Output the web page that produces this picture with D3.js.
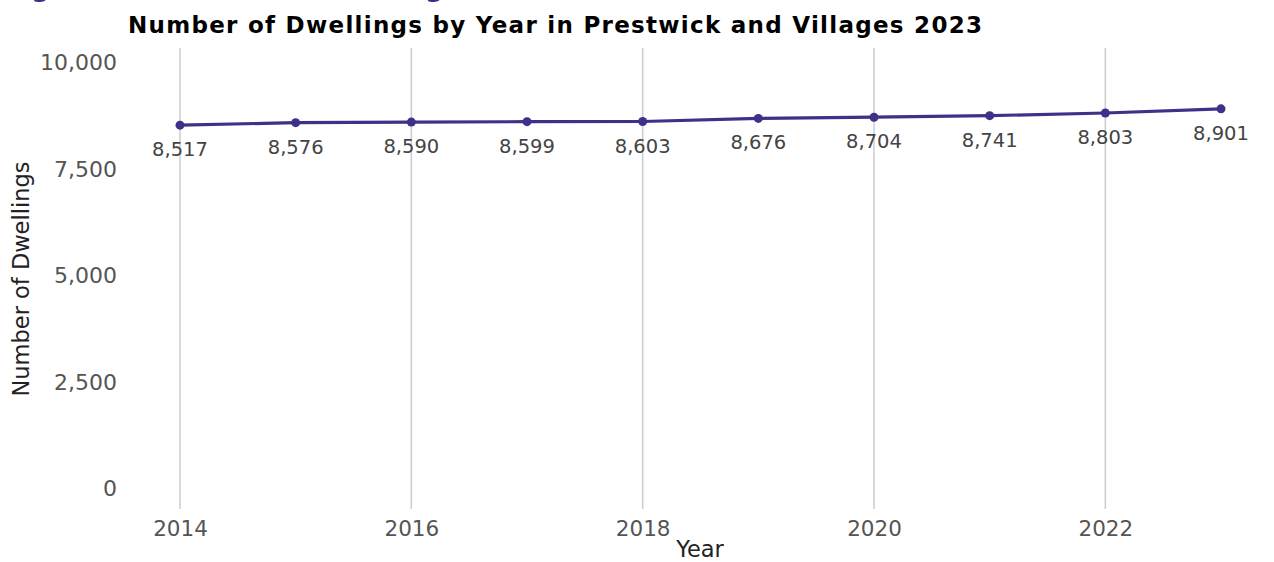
<!DOCTYPE html>
<html>
<head>
<meta charset="utf-8">
<script src="https://cdn.jsdelivr.net/npm/d3@7"></script>
<style>
  html, body { margin: 0; padding: 0; background: #fff; }
  svg { display: block; font-family: "DejaVu Sans", sans-serif; }
</style>
</head>
<body>
<svg id="chart" width="1274" height="562"></svg>
<script>
const years = [2014, 2015, 2016, 2017, 2018, 2019, 2020, 2021, 2022, 2023];
const dwellings = [8517, 8576, 8590, 8599, 8603, 8676, 8704, 8741, 8803, 8901];
const xTicks = [2014, 2016, 2018, 2020, 2022];
const yTicks = [0, 2500, 5000, 7500, 10000];
const titleText = "Number of Dwellings by Year in Prestwick and Villages 2023";
const headingText = "Figure 1: Number of Dwellings";

const svg = d3.select("#chart");
const lineColor = "#3d3189";

const x = d3.scaleLinear().domain([2014, 2023]).range([180, 1221]);
const y = d3.scaleLinear().domain([0, 10000]).range([488, 62]);

// cut-off heading at very top (only descenders visible, as in the reference)
svg.append("text")
  .attr("x", 4).attr("y", -4)
  .attr("font-size", 26.5).attr("font-weight", "bold")
  .attr("fill", "#3b2d8a")
  .text(headingText);

// vertical grid lines
svg.append("g").selectAll("line")
  .data(xTicks)
  .join("line")
  .attr("x1", d => x(d)).attr("x2", d => x(d))
  .attr("y1", 48).attr("y2", 509)
  .attr("stroke", "#cccccc").attr("stroke-width", 1.5);

// y tick labels
const yAxis = d3.axisLeft(y).tickValues(yTicks).tickSize(0).tickPadding(0)
  .tickFormat(d3.format(","));
const gy = svg.append("g").attr("transform", "translate(117,0)").call(yAxis);
gy.select(".domain").remove();
gy.selectAll("text").attr("font-size", 22).attr("fill", "#555").attr("font-family", "DejaVu Sans, sans-serif").attr("dy", "0.35em");

// x tick labels
const xAxis = d3.axisBottom(x).tickValues(xTicks).tickSize(0).tickPadding(0)
  .tickFormat(d3.format("d"));
const gx = svg.append("g").attr("transform", "translate(0,536)").call(xAxis);
gx.select(".domain").remove();
gx.selectAll("text").attr("font-size", 21.5).attr("fill", "#555").attr("font-family", "DejaVu Sans, sans-serif").attr("dy", 0);

// line
const data = years.map((yr, i) => ({ year: yr, value: dwellings[i] }));
svg.append("path")
  .datum(data)
  .attr("fill", "none")
  .attr("stroke", lineColor)
  .attr("stroke-width", 3.2)
  .attr("d", d3.line().x(d => x(d.year)).y(d => y(d.value)));

svg.append("g").selectAll("circle")
  .data(data)
  .join("circle")
  .attr("cx", d => x(d.year)).attr("cy", d => y(d.value))
  .attr("r", 4.5)
  .attr("fill", lineColor);

// data labels
svg.append("g").selectAll("text")
  .data(data)
  .join("text")
  .attr("x", d => x(d.year)).attr("y", d => y(d.value) + 31)
  .attr("text-anchor", "middle")
  .attr("font-size", 19.5)
  .attr("fill", "#444")
  .text(d => d3.format(",")(d.value));

// title
svg.append("text")
  .attr("x", 128).attr("y", 33)
  .attr("font-size", 23).attr("font-weight", "bold").attr("fill", "#000")
  .attr("textLength", 854).attr("lengthAdjust", "spacing")
  .text(titleText);

// axis titles
svg.append("text")
  .attr("x", 700).attr("y", 556.5)
  .attr("text-anchor", "middle")
  .attr("font-size", 22.5).attr("fill", "#222")
  .text("Year");

svg.append("text")
  .attr("transform", "translate(29,279) rotate(-90)")
  .attr("text-anchor", "middle")
  .attr("font-size", 22.5).attr("fill", "#222")
  .text("Number of Dwellings");
</script>
</body>
</html>
